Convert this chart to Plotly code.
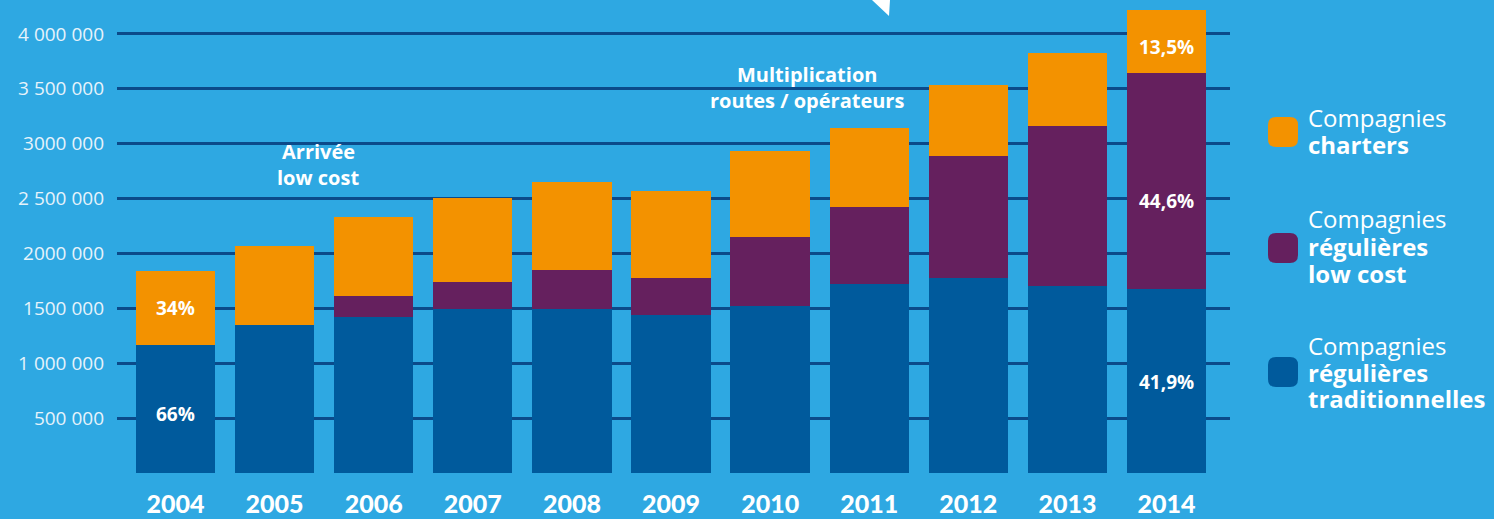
import plotly.graph_objects as go

years = ['2004', '2005', '2006', '2007', '2008', '2009', '2010', '2011', '2012', '2013', '2014']
traditionnelles = [1162000, 1345000, 1417000, 1490000, 1490000, 1436000, 1518000, 1721000, 1779000, 1700000, 1673000]
low_cost = [0, 0, 192000, 247000, 356000, 340000, 631000, 699000, 1106000, 1459000, 1969000]
charters = [675000, 720000, 720000, 772000, 802000, 790000, 782000, 723000, 647000, 671000, 574000]

y_tickvals = [500000, 1000000, 1500000, 2000000, 2500000, 3000000, 3500000, 4000000]
y_ticktext = ['500 000', '1 000 000', '1500 000', '2000 000', '2 500 000', '3000 000', '3 500 000', '4 000 000']

# share labels written on the first and last bars
pct_labels = [('2004', 1500000, '34%'), ('2004', 540000, '66%'),
              ('2014', 3880000, '13,5%'), ('2014', 2480000, '44,6%'),
              ('2014', 825000, '41,9%')]

legend_items = [('#F39200', 'Compagnies', ['charters']),
                ('#65205E', 'Compagnies', ['régulières', 'low cost']),
                ('#005A9C', 'Compagnies', ['régulières', 'traditionnelles'])]

BG = '#2EA8E2'
GRID = '#0B4A8A'
TXT = '#E6F3FB'

# plot area geometry in pixels (used to place the custom legend)
W, H = 1494, 519
ML, MR, MT, MB = 117, 264, 1, 46
PW, PH = W - ML - MR, H - MT - MB


def px_to_paper(px, py):
    return (px - ML) / PW, (H - MB - py) / PH


def rounded_square(size, r):
    h = size / 2
    return (f'M {-h + r},{-h} L {h - r},{-h} Q {h},{-h} {h},{-h + r} '
            f'L {h},{h - r} Q {h},{h} {h - r},{h} L {-h + r},{h} '
            f'Q {-h},{h} {-h},{h - r} L {-h},{-h + r} Q {-h},{-h} {-h + r},{-h} Z')


fig = go.Figure()
fig.add_trace(go.Bar(x=years, y=traditionnelles, name='Compagnies régulières traditionnelles',
                     marker={'color': '#005A9C', 'line': {'width': 0}}))
fig.add_trace(go.Bar(x=years, y=low_cost, name='Compagnies régulières low cost',
                     marker={'color': '#65205E', 'line': {'width': 0}}))
fig.add_trace(go.Bar(x=years, y=charters, name='Compagnies charters',
                     marker={'color': '#F39200', 'line': {'width': 0}}))

for yr, val, txt in pct_labels:
    fig.add_annotation(x=years.index(yr), y=val, text=f'<b>{txt}</b>', showarrow=False,
                       font={'family': 'Open Sans', 'size': 19, 'color': 'white'})

notes = [(1.44, 2925000, 'Arrivée'), (1.44, 2695000, 'low cost'),
         (6.37, 3630000, 'Multiplication'), (6.37, 3390000, 'routes / opérateurs')]
for nx, ny, txt in notes:
    fig.add_annotation(x=nx, y=ny, text=f'<b>{txt}</b>', showarrow=False,
                       font={'family': 'Open Sans', 'size': 20, 'color': 'white'})

# custom legend on the right
legend_rows = [(132, [117, 145]), (248, [218, 246, 273]), (372, [345, 372, 398])]
for (color, first, rest), (cy, line_ys) in zip(legend_items, legend_rows):
    mx, my = px_to_paper(1283, cy)
    fig.add_shape(type='path', xref='paper', yref='paper', xsizemode='pixel',
                  ysizemode='pixel', xanchor=mx, yanchor=my,
                  path=rounded_square(30, 8), fillcolor=color, line={'width': 0})
    lines = [first] + [f'<b>{t}</b>' for t in rest]
    for txt, ly in zip(lines, line_ys):
        tx, ty = px_to_paper(1306, ly)
        fig.add_annotation(xref='paper', yref='paper', x=tx, y=ty, text=txt,
                           xanchor='left', yanchor='middle', showarrow=False,
                           font={'family': 'Open Sans', 'size': 24, 'color': 'white'})

# white pointer at the top edge
p1, p2, p3 = px_to_paper(872, 0), px_to_paper(890, 0), px_to_paper(889, 16)
fig.add_shape(type='path', xref='paper', yref='paper', fillcolor='white',
              line={'width': 0},
              path=f'M {p1[0]},{p1[1]} L {p2[0]},{p2[1]} L {p3[0]},{p3[1]} Z')

fig.update_layout(barmode='stack', bargap=0.2, showlegend=False,
                  width=W, height=H, paper_bgcolor=BG, plot_bgcolor=BG,
                  margin={'l': ML, 'r': MR, 't': MT, 'b': MB},
                  xaxis={'type': 'category', 'range': [-0.59, 10.64], 'showgrid': False,
                         'showline': False, 'zeroline': False, 'ticks': '',
                         'ticklabelstandoff': 14, 'automargin': False,
                         'tickfont': {'family': 'Lato', 'size': 25, 'color': 'white',
                                      'weight': 900}},
                  yaxis={'range': [0, 4300000], 'tickvals': y_tickvals,
                         'ticktext': y_ticktext, 'showgrid': True, 'gridcolor': GRID,
                         'gridwidth': 3, 'zeroline': False, 'showline': False,
                         'ticks': '', 'ticklabelstandoff': 12, 'automargin': False,
                         'tickfont': {'family': 'Open Sans', 'size': 19, 'color': TXT}})

fig.write_html("out.html", config={'displayModeBar': False},
               post_script="document.body.style.margin = '0';")
